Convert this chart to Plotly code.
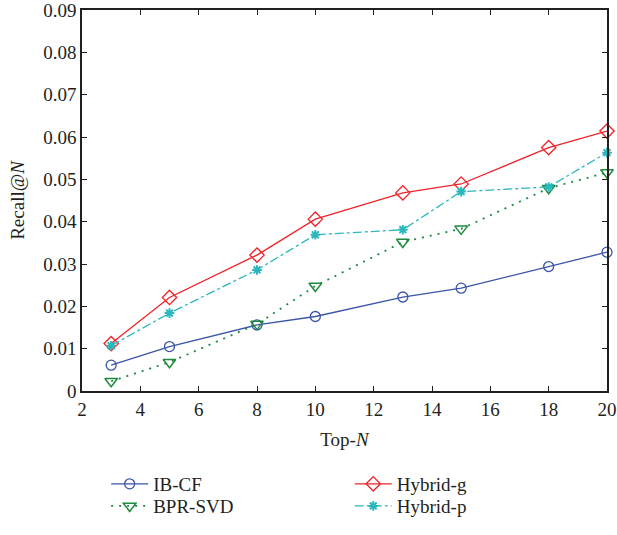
import plotly.graph_objects as go

top_n = [3, 5, 8, 10, 13, 15, 18, 20]
ib_cf = [0.0061, 0.0105, 0.0156, 0.0176, 0.0222, 0.0243, 0.0294, 0.0328]
bpr_svd = [0.0023, 0.0068, 0.0158, 0.0248, 0.0352, 0.0383, 0.0479, 0.0516]
hybrid_g = [0.0112, 0.0221, 0.0321, 0.0406, 0.0468, 0.0489, 0.0575, 0.0614]
hybrid_p = [0.0107, 0.0184, 0.0286, 0.0369, 0.0381, 0.0471, 0.0482, 0.0563]

x_ticks = [2, 4, 6, 8, 10, 12, 14, 16, 18, 20]
y_ticks = [0, 0.01, 0.02, 0.03, 0.04, 0.05, 0.06, 0.07, 0.08, 0.09]
y_tick_text = ["0", "0.01", "0.02", "0.03", "0.04", "0.05", "0.06", "0.07", "0.08", "0.09"]

FONT = "Liberation Serif"
INK = "#231f20"

fig = go.Figure()
fig.add_trace(go.Scatter(
    x=top_n, y=ib_cf, name="IB-CF", mode="lines+markers", cliponaxis=False,
    line=dict(color="#3a55a8", width=1.3),
    marker=dict(symbol="circle-open", size=10, color="#3a55a8", line=dict(width=1.3)),
    legend="legend", showlegend=True))
fig.add_trace(go.Scatter(
    x=top_n, y=bpr_svd, name="BPR-SVD", mode="lines+markers", cliponaxis=False,
    line=dict(color="#1e8a3e", width=1.8, dash="2px,6px"),
    marker=dict(symbol="triangle-down-open", size=11, color="#1e8a3e", line=dict(width=1.5)),
    legend="legend3", showlegend=True))
fig.add_trace(go.Scatter(
    x=top_n, y=hybrid_g, name="Hybrid-g", mode="lines+markers", cliponaxis=False,
    line=dict(color="#ee2229", width=1.3),
    marker=dict(symbol="diamond-open", size=11, color="#ee2229", line=dict(width=1.3)),
    legend="legend2", showlegend=True))
fig.add_trace(go.Scatter(
    x=top_n, y=hybrid_p, name="Hybrid-p", mode="lines+markers", cliponaxis=False,
    line=dict(color="#2ab8bc", width=1.3, dash="dashdot"),
    marker=dict(symbol="asterisk-open", size=8, color="#2ab8bc",
                line=dict(width=2, color="#2ab8bc")),
    legend="legend4", showlegend=True))

axis_common = dict(
    showline=True, linecolor=INK, linewidth=1.5, mirror="ticks",
    ticks="inside", ticklen=5, tickcolor=INK, tickwidth=1.2,
    showgrid=False, zeroline=False, automargin=False,
    ticklabeloverflow="allow",
    tickfont=dict(family=FONT, size=19, color=INK),
)

def leg(x, y):
    return dict(x=x, y=y, xanchor="left", yanchor="middle",
                font=dict(family=FONT, size=19, color=INK),
                bgcolor="rgba(0,0,0,0)", itemwidth=37)

fig.update_layout(
    width=617, height=535,
    margin=dict(l=82, r=10, t=10, b=139),
    plot_bgcolor="white", paper_bgcolor="white",
    showlegend=True,
    font=dict(family=FONT, color=INK),
    xaxis=dict(range=[2, 20], tickvals=x_ticks,
               title=dict(text="Top-<i>N</i>", font=dict(family=FONT, size=19), standoff=14),
               **axis_common),
    yaxis=dict(range=[0, 0.09], tickvals=y_ticks, ticktext=y_tick_text,
               title=dict(text="Recall@<i>N</i>", font=dict(family=FONT, size=19), standoff=14),
               **axis_common),
    legend=leg(0.046, -0.244),
    legend2=leg(0.51, -0.244),
    legend3=leg(0.046, -0.302),
    legend4=leg(0.51, -0.302),
)

fig.write_html("out.html", config={"displayModeBar": False},
               post_script="document.body.style.margin='0px';")
